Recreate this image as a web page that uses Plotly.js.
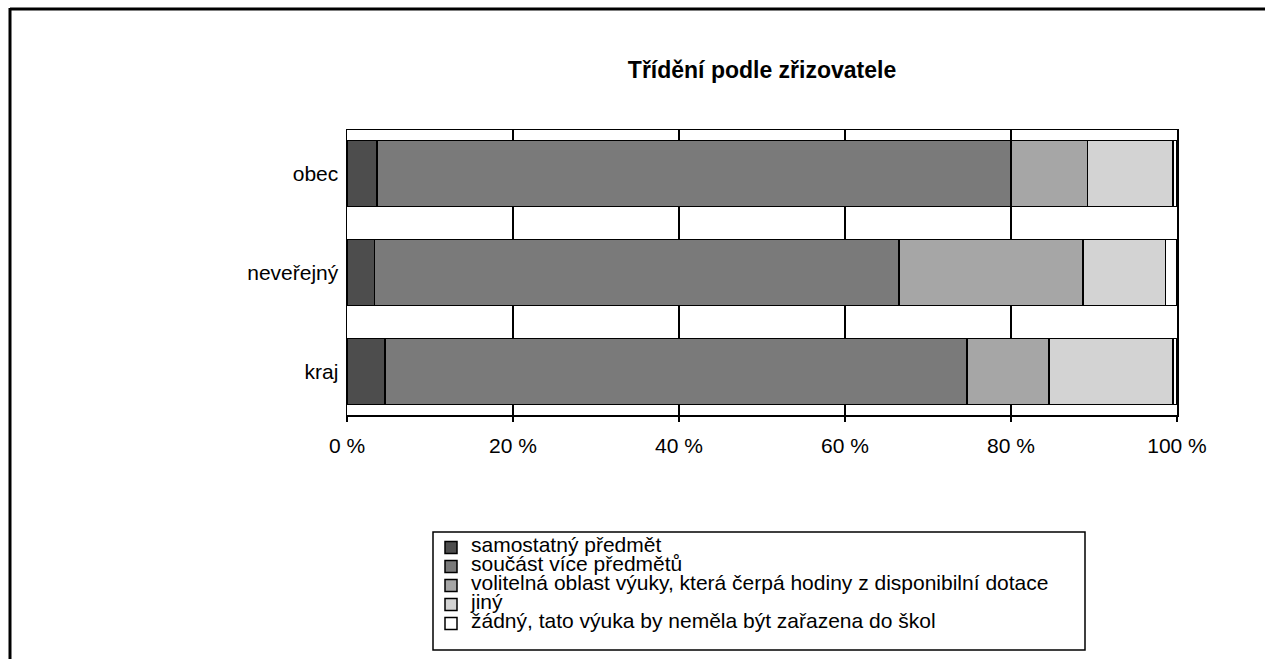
<!DOCTYPE html>
<html><head><meta charset="utf-8">
<script src="https://cdn.plot.ly/plotly-3.0.1.min.js"></script>
<style>html,body{margin:0;padding:0;background:#fff}</style>
</head><body><div id="chart" style="width:1265px;height:659px"></div>
<script>
const categories = ['obec', 'neveřejný', 'kraj'];
const seriesNames = [
  'samostatný předmět',
  'součást více předmětů',
  'volitelná oblast výuky, která čerpá hodiny z disponibilní dotace',
  'jiný',
  'žádný, tato výuka by neměla být zařazena do škol'
];
const samostatny = [3.6, 3.3, 4.6];
const soucast = [76.4, 63.2, 70.1];
const volitelna = [9.2, 22.2, 9.9];
const jiny = [10.3, 9.9, 14.9];
const zadny = [0.5, 1.4, 0.5];
const tickValues = [0, 20, 40, 60, 80, 100];
const tickLabels = ['0 %', '20 %', '40 %', '60 %', '80 %', '100 %'];
const seriesColors = ['#4d4d4d', '#7a7a7a', '#a6a6a6', '#d3d3d3', '#ffffff'];

const values = [samostatny, soucast, volitelna, jiny, zadny];
const FONT = 'Liberation Sans, Arial, sans-serif';

const traces = values.map((v, i) => ({
  type: 'bar',
  orientation: 'h',
  y: categories,
  x: v,
  name: '<span style="font-size:21px">' + seriesNames[i] + '</span>',
  marker: { color: seriesColors[i], line: { color: '#000', width: 1.5 } },
  hoverinfo: 'x+y'
}));

// pixel helpers for plot area (x: 347..1177, y: 130..415)
const px = p => (p - 347) / 830;
const py = p => (415 - p) / 285;

const layout = {
  width: 1265, height: 659,
  margin: { l: 347, r: 88, t: 130, b: 244 },
  paper_bgcolor: '#fff', plot_bgcolor: '#fff',
  font: { family: FONT, size: 21, color: '#000' },
  title: { text: '<b>Třídění podle zřizovatele</b>', font: { family: FONT, size: 23, color: '#000' },
           x: 0.6024, xanchor: 'center', y: 1 - 70 / 659, yanchor: 'middle' },
  barmode: 'stack',
  bargap: 0.332,
  showlegend: true,
  legend: {
    x: px(431), xanchor: 'left', y: py(533), yanchor: 'top',
    traceorder: 'normal', orientation: 'v',
    bgcolor: 'rgba(0,0,0,0)', borderwidth: 0,
    font: { family: FONT, size: 12, color: '#000' }
  },
  xaxis: {
    range: [0, 100], tickvals: tickValues, ticktext: tickLabels,
    showgrid: true, gridcolor: '#000', gridwidth: 1.5,
    showline: true, linecolor: '#000', linewidth: 1.5, mirror: true,
    ticks: 'outside', ticklen: 5, tickcolor: '#000', tickwidth: 1.5,
    ticklabelstandoff: 6, zeroline: false, fixedrange: true,
    tickfont: { family: FONT, size: 21, color: '#000' }
  },
  yaxis: {
    type: 'category', range: [2.44, -0.44], autorange: false,
    showgrid: false, showline: true, linecolor: '#000', linewidth: 1.5, mirror: true,
    ticks: '', ticklabelstandoff: 3, fixedrange: true,
    tickfont: { family: FONT, size: 21, color: '#000' }
  },
  shapes: [
    { type: 'line', xref: 'paper', yref: 'paper', x0: px(10), x1: px(1265), y0: py(9), y1: py(9), line: { color: '#000', width: 3 } },
    { type: 'line', xref: 'paper', yref: 'paper', x0: px(10), x1: px(10), y0: py(8), y1: py(659), line: { color: '#000', width: 3 } },
    { type: 'rect', xref: 'paper', yref: 'paper', x0: px(433), x1: px(1085), y0: py(532), y1: py(650), line: { color: '#000', width: 1.5 }, fillcolor: 'rgba(0,0,0,0)' }
  ]
};

Plotly.newPlot('chart', traces, layout, { displayModeBar: false, staticPlot: true });
</script></body></html>
